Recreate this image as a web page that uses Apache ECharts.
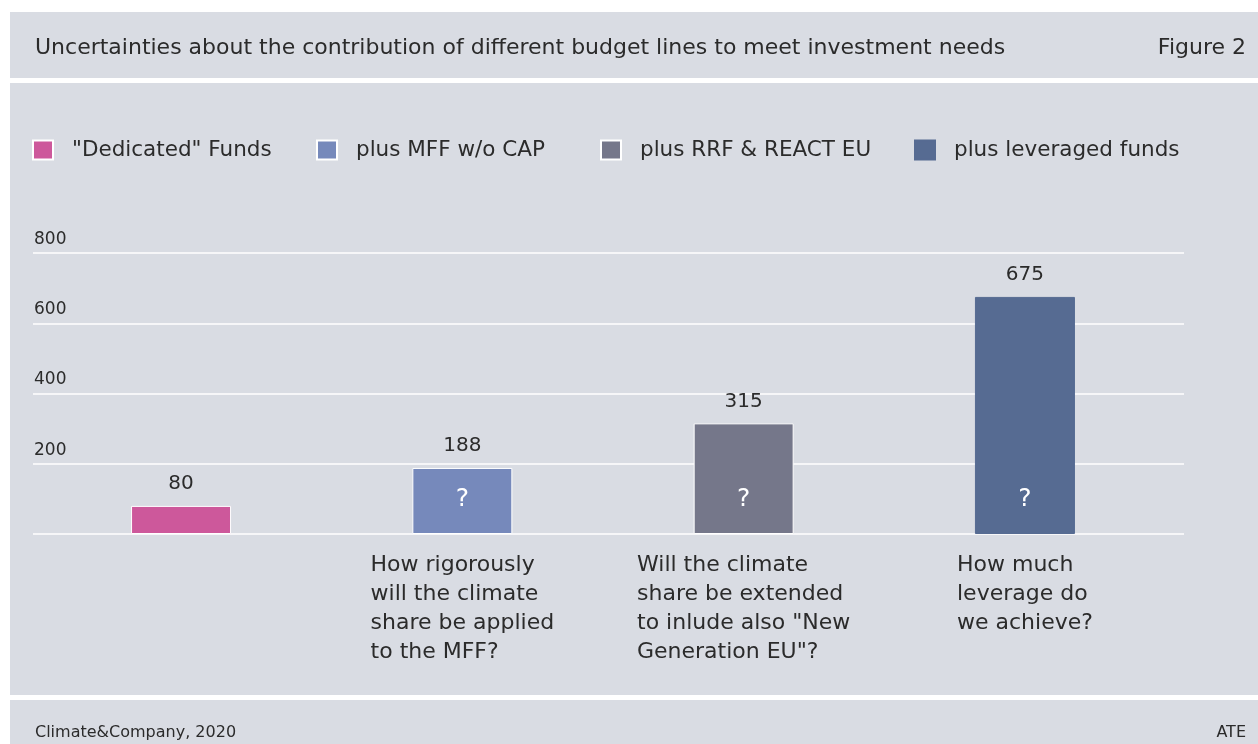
<!DOCTYPE html>
<html>
<head>
<meta charset="utf-8">
<script src="https://cdn.jsdelivr.net/npm/echarts@6/dist/echarts.min.js"></script>
<style>
  html, body { margin: 0; padding: 0; background: #fff; }
  #main { width: 1258px; height: 744px; }
</style>
</head>
<body>
<div id="main"></div>
<script>
// data
const seriesNames = ['"Dedicated" Funds', 'plus MFF w/o CAP', 'plus RRF & REACT EU', 'plus leveraged funds'];
const values = [80, 188, 315, 675];
const questionMarks = ['', '?', '?', '?'];
const categories = [
  [''],
  ['How rigorously', 'will the climate', 'share be applied', 'to the MFF?'],
  ['Will the climate', 'share be extended', 'to inlude also "New', 'Generation EU"?'],
  ['How much', 'leverage do', 'we achieve?']
];
const yTicks = [0, 200, 400, 600, 800];
const colors = ['#cd589b', '#7689bb', '#75778a', '#566b92'];

const font = '"DejaVu Sans", sans-serif';
const textColor = '#2b2b2b';
const panel = '#d9dce3';
// left edge of each legend entry
const legendLeft = [27, 311, 595, 909];

const myChart = echarts.init(document.getElementById('main'));

const barSeries = seriesNames.map((name, i) => ({
  name: name,
  type: 'bar',
  stack: 'total',
  barWidth: 100,
  barGap: '-100%',
  data: values.map((v, j) => (j === i ? v : '-')),
  itemStyle: {
    color: colors[i],
    borderColor: i < 3 ? '#ffffff' : colors[i],
    borderWidth: 1
  },
  label: {
    show: true,
    position: 'top',
    distance: 12,
    fontFamily: font,
    fontSize: 20,
    color: textColor
  }
}));

// transparent overlay that carries the "?" near the foot of each bar
const qSeries = {
  name: 'uncertain',
  type: 'bar',
  barWidth: 100,
  barGap: '-100%',
  silent: true,
  z: 5,
  data: values,
  itemStyle: { color: 'rgba(0,0,0,0)' },
  label: {
    show: true,
    position: 'insideBottom',
    distance: 22,
    formatter: p => questionMarks[p.dataIndex],
    fontFamily: font,
    fontSize: 25,
    color: '#ffffff'
  }
};

myChart.setOption({
  backgroundColor: '#ffffff',
  animation: false,
  graphic: [
    { type: 'rect', z: -10, shape: { x: 10, y: 12, width: 1248, height: 66 }, style: { fill: panel } },
    { type: 'rect', z: -10, shape: { x: 10, y: 83, width: 1248, height: 612 }, style: { fill: panel } },
    { type: 'rect', z: -10, shape: { x: 10, y: 700, width: 1248, height: 44 }, style: { fill: panel } }
  ],
  title: [
    {
      text: 'Uncertainties about the contribution of different budget lines to meet investment needs',
      left: 30, top: 32,
      textStyle: { fontFamily: font, fontSize: 22, fontWeight: 'normal', color: textColor }
    },
    {
      text: 'Figure 2',
      right: 7, top: 32,
      textStyle: { fontFamily: font, fontSize: 22, fontWeight: 'normal', color: textColor }
    },
    {
      text: 'Climate&Company, 2020',
      left: 30, top: 720,
      textStyle: { fontFamily: font, fontSize: 16, fontWeight: 'normal', color: textColor }
    },
    {
      text: 'ATE',
      right: 7, top: 720,
      textStyle: { fontFamily: font, fontSize: 16, fontWeight: 'normal', color: textColor }
    }
  ],
  legend: seriesNames.map((name, i) => ({
    data: [name],
    left: legendLeft[i],
    top: 134,
    itemWidth: 20,
    itemHeight: 19,
    icon: 'rect',
    textStyle: { fontFamily: font, fontSize: 21.5, color: textColor, padding: [0, 0, 0, 14] }
  })),
  grid: [
    { left: 40.4, right: 92.4, top: 253, bottom: 210 },
    { left: 33, right: 74, top: 253, bottom: 210 }
  ],
  xAxis: [
    {
      type: 'category',
      gridIndex: 0,
      data: categories.map(c => c.join('\n')),
      axisLine: { show: false },
      axisTick: { show: false },
      axisLabel: {
        margin: 17,
        interval: 0,
        formatter: (v, i) => categories[i].map(line => '{q|' + line + '}').join('\n'),
        rich: {
          q: { align: 'left', fontFamily: font, fontSize: 22, lineHeight: 29, color: textColor }
        }
      }
    },
    {
      type: 'category',
      gridIndex: 1,
      data: categories.map((c, i) => i),
      show: false
    }
  ],
  yAxis: [
    {
      type: 'value',
      gridIndex: 0,
      min: yTicks[0],
      max: yTicks[yTicks.length - 1],
      interval: 200,
      show: false,
      splitLine: { show: false }
    },
    {
      type: 'value',
      gridIndex: 1,
      min: yTicks[0],
      max: yTicks[yTicks.length - 1],
      interval: 200,
      axisLine: { show: false },
      axisTick: { show: false },
      splitLine: { show: true, lineStyle: { color: '#ffffff', width: 1.5 } },
      axisLabel: {
        inside: true,
        margin: 1,
        align: 'left',
        verticalAlign: 'bottom',
        padding: [0, 0, 5, 0],
        showMinLabel: false,
        fontFamily: font,
        fontSize: 17,
        lineHeight: 17,
        color: textColor
      }
    }
  ],
  series: barSeries.concat([qSeries])
});
</script>
</body>
</html>
